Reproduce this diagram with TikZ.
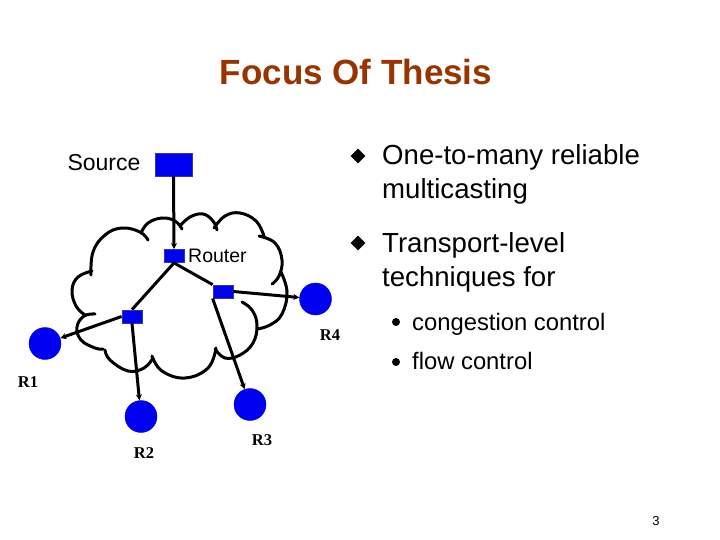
\documentclass[tikz,border=0pt]{standalone}
\usepackage{fontspec}
\setmainfont{Liberation Sans}
\newfontfamily\serifb{Liberation Serif}
\usetikzlibrary{shapes.geometric,arrows.meta}
\definecolor{titlered}{HTML}{993300}
\definecolor{nodeblue}{HTML}{0000F0}
\definecolor{nodeedge}{HTML}{3535A8}
\tikzset{
  box/.style={rectangle,fill=nodeblue,draw=nodeedge,line width=0.8pt,inner sep=0pt},
  rcv/.style={circle,fill=nodeblue,draw=nodeblue,inner sep=0pt,minimum size=32pt},
  link/.style={line width=3pt,black},
  arr/.style={link,-{Stealth[length=6pt,width=6pt]}},
  lobe/.style={line width=3pt,black,line cap=round},
  rlab/.style={font=\serifb\bfseries\fontsize{16.5}{19}\selectfont},
  btext/.style={anchor=base west,inner sep=0pt,font=\fontsize{27.6}{32}\selectfont},
  stext/.style={anchor=base west,inner sep=0pt,font=\fontsize{23.8}{28}\selectfont},
}
\begin{document}
\begin{tikzpicture}[x=1pt,y=-1pt]
\useasboundingbox[fill=white] (0,0) rectangle (720,540);
% title
\node[anchor=base,inner sep=0pt,text=titlered,font=\bfseries\fontsize{35}{40}\selectfont] (title) at (356,85) {Focus Of Thesis};
% cloud
\draw[lobe] plot[smooth,tension=0.7] coordinates {(91,275) (93,252) (105,235) (122,228) (140,232) (148,240)};
\draw[lobe] plot[smooth,tension=0.7] coordinates {(141,233) (148,223) (162,218) (175,221) (182,229)};
\draw[lobe] plot[smooth,tension=0.7] coordinates {(180,226) (190,217) (203,214) (213,221) (217,230)};
\draw[lobe] plot[smooth,tension=0.7] coordinates {(214,228) (225,216) (240,213) (256,221) (264,236)};
\draw[lobe] plot[smooth,tension=0.7] coordinates {(259,236) (275,243) (282,260) (279,276) (272,284)};
\draw[lobe] plot[smooth,tension=0.7] coordinates {(281,272) (287,292) (282,314) (270,325) (257,329)};
\draw[lobe] plot[smooth,tension=0.7] coordinates {(242,302) (252,310) (257,325) (253,343) (240,355) (225,358) (215,349)};
\draw[lobe] plot[smooth,tension=0.7] coordinates {(216,348) (208,368) (185,378) (162,371) (152,356)};
\draw[lobe] plot[smooth,tension=0.7] coordinates {(153,358) (144,368) (128,371) (110,360) (105,350)};
\draw[lobe] plot[smooth,tension=0.7] coordinates {(95,314) (84,316) (77,327) (81,340) (95,348) (103,349)};
\draw[lobe] plot[smooth,tension=0.7] coordinates {(92,271) (78,277) (72,290) (76,306) (85,315)};
% nodes
\node[box,minimum width=37pt,minimum height=23pt] (src) at (173.5,164.5) {};
\node[box,minimum width=20pt,minimum height=13pt] (rt) at (174,256) {};
\node[box,minimum width=20pt,minimum height=13pt] (rr) at (223,291.5) {};
\node[box,minimum width=20pt,minimum height=13pt] (rl) at (132,316.5) {};
\node[rcv] (r1) at (45,343.5) {};
\node[rcv] (r2) at (141,416.5) {};
\node[rcv] (r3) at (250,404.5) {};
\node[rcv] (r4) at (315.5,299) {};
% labels
\node[font=\fontsize{23}{27}\selectfont,inner sep=0pt] (srclab) at (104,163) {Source};
\node[anchor=west,inner sep=0pt,font=\fontsize{19.5}{23}\selectfont] (rtlab) at (188,256) {Router};
\node[rlab] (l1) at (28,382) {R1};
\node[rlab] (l2) at (144,453) {R2};
\node[rlab] (l3) at (262,440) {R3};
\node[rlab] (l4) at (330,335) {R4};
% connectors
\draw[arr] (src.south) -- (rt.north);
\draw[link] (rt.south) -- (rl.north);
\draw[link] (rt.south) -- (rr.north west);
\draw[arr] (rl.west) -- (r1);
\draw[arr] (rl.south) -- (r2);
\draw[arr] (rr.south west) -- (r3);
\draw[arr] (rr.east) -- (r4);
% bullets
\node[diamond,fill=black,inner sep=0pt,minimum size=15pt] (d1) at (358,156) {};
\node[diamond,fill=black,inner sep=0pt,minimum size=15pt] (d2) at (358,243) {};
\node[btext] (t1) at (382,165) {One-to-many reliable};
\node[btext] (t2) at (382,199) {multicasting};
\node[btext] (t3) at (382,252) {Transport-level};
\node[btext] (t4) at (382,286) {techniques for};
\node[circle,fill=black,inner sep=0pt,minimum size=8pt] (b1) at (396,322) {};
\node[circle,fill=black,inner sep=0pt,minimum size=8pt] (b2) at (396,362) {};
\node[stext] (t5) at (412,330) {congestion control};
\node[stext] (t6) at (412,369) {flow control};
\node[inner sep=0pt,font=\fontsize{13}{15}\selectfont] (pg) at (656,521) {3};
\end{tikzpicture}
\end{document}
